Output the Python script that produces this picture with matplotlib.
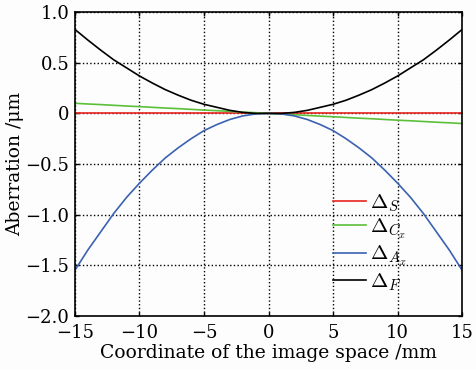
import matplotlib
matplotlib.use("Agg")
import matplotlib.pyplot as plt

# coordinate of image space (mm) and aberrations (um)
x_mm = [-15, -14, -13, -12, -11, -10, -9, -8, -7, -6, -5, -4, -3, -2, -1, 0,
        1, 2, 3, 4, 5, 6, 7, 8, 9, 10, 11, 12, 13, 14, 15]
delta_s = [0.0] * 31
delta_cx = [0.10, 0.093, 0.087, 0.080, 0.073, 0.067, 0.060, 0.053, 0.047, 0.040,
            0.033, 0.027, 0.020, 0.013, 0.007, 0.0, -0.007, -0.013, -0.020, -0.027,
            -0.033, -0.040, -0.047, -0.053, -0.060, -0.067, -0.073, -0.080, -0.087,
            -0.093, -0.10]
delta_ax = [-1.55, -1.35, -1.17, -0.99, -0.83, -0.69, -0.56, -0.44, -0.34, -0.25,
            -0.17, -0.11, -0.06, -0.025, -0.005, 0.0, -0.005, -0.025, -0.06, -0.11,
            -0.17, -0.25, -0.34, -0.44, -0.56, -0.69, -0.83, -0.99, -1.17, -1.35, -1.55]
delta_f = [0.83, 0.725, 0.625, 0.53, 0.45, 0.37, 0.30, 0.235, 0.18, 0.13,
           0.09, 0.06, 0.03, 0.01, 0.0, 0.0, 0.0, 0.01, 0.03, 0.06,
           0.09, 0.13, 0.18, 0.235, 0.30, 0.37, 0.45, 0.53, 0.625, 0.725, 0.83]

yticks = [1.0, 0.5, 0, -0.5, -1.0, -1.5, -2.0]
ytick_labels = ["1.0", "0.5", "0", "\u22120.5", "\u22121.0", "\u22121.5", "\u22122.0"]
xticks = [-15, -10, -5, 0, 5, 10, 15]
xtick_labels = ["\u221215", "\u221210", "\u22125", "0", "5", "10", "15"]

plt.rcParams['font.family'] = ['DejaVu Serif']
plt.rcParams['mathtext.fontset'] = 'cm'

fig = plt.figure(figsize=(4.77, 3.69), dpi=100)
fig.patch.set_facecolor('#fdfdfd')
ax = fig.add_axes([0.157, 0.144, 0.812, 0.823])
ax.set_facecolor('#fdfdfd')

ax.plot(x_mm, delta_s, color='#e8251f', lw=1.2, label=r'$\Delta_S$')
ax.plot(x_mm, delta_cx, color='#5cbf3a', lw=1.2, label=r'$\Delta_{C_x}$')
ax.plot(x_mm, delta_ax, color='#3a62b0', lw=1.2, label=r'$\Delta_{A_x}$')
ax.plot(x_mm, delta_f, color='black', lw=1.2, label=r'$\Delta_F$')

ax.set_xlim(-15, 15)
ax.set_ylim(-2.0, 1.0)
ax.set_xticks(xticks)
ax.set_xticklabels(xtick_labels, fontsize=13)
ax.set_yticks(yticks)
ax.set_yticklabels(ytick_labels, fontsize=13)
ax.tick_params(direction='in', top=True, right=True, length=3, width=1)
ax.tick_params(axis='x', pad=6)
ax.tick_params(axis='y', pad=4)
ax.grid(True, color='black', linestyle=':', linewidth=1)
for s in ax.spines.values():
    s.set_linewidth(1.2)

ax.set_xlabel("Coordinate of the image space /mm", fontsize=13.5, labelpad=1)
ax.set_ylabel("Aberration /\u03bcm", fontsize=13.5, labelpad=1)

ax.legend(loc='upper left', bbox_to_anchor=(0.645, 0.435), frameon=False,
          fontsize=15, handlelength=1.6, labelspacing=0.15, handletextpad=0.15,
          borderaxespad=0)

fig.savefig("out.png", dpi=100, facecolor=fig.get_facecolor())
